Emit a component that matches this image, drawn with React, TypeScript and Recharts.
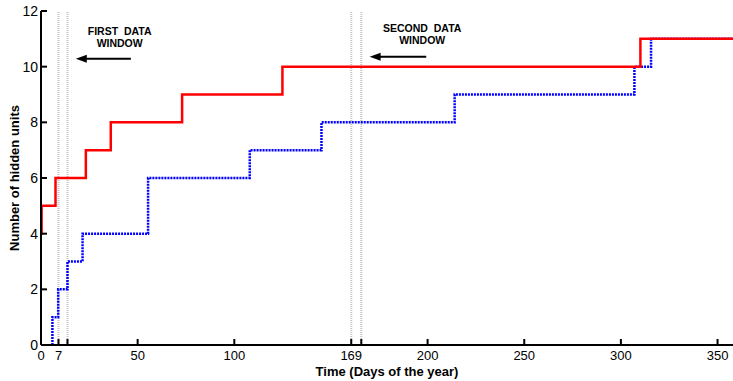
import React from "react";
import { LineChart, Line, XAxis, YAxis, ReferenceLine, ReferenceDot } from "recharts";

// Cumulative hidden units, step data (day, units)
const redDays = [0, 0.3, 7.5, 23.2, 36.1, 73.0, 124.9, 310.1, 358];
const redUnits = [4, 5, 6, 7, 8, 9, 10, 11, 11];

const blueDays = [5.9, 8.9, 13.7, 21.5, 55.4, 108.0, 145.1, 214.0, 307.0, 315.6, 358];
const blueLevelsAfter = [1, 2, 3, 4, 6, 7, 8, 9, 10, 11, 11];

// Data windows (days)
const windowDays = [9.05, 13.7, 160.5, 165.7];

// Axis ticks
const xTickValues = [0, 9.05, 13.7, 50, 100, 160.5, 165.7, 200, 250, 300, 350];
const xTickLabels = ["0", "7", "", "50", "100", "169", "", "200", "250", "300", "350"];
const yTickValues = [0, 2, 4, 6, 8, 10, 12];

const redSeries = redDays.map((d, i) => ({ x: d, red: redUnits[i] }));
const blueStep = [
  { x: blueDays[0], blue: 0 },
  ...blueDays.map((d, i) => ({ x: d, blue: blueLevelsAfter[i] })),
];

const FONT = "'Liberation Sans', Arial, sans-serif";

const BottomTick = (props: any) => {
  const { x, y, payload } = props;
  const idx = xTickValues.indexOf(payload.value);
  const label = idx >= 0 ? xTickLabels[idx] : String(payload.value);
  return (
    <g>
      <line x1={x} y1={y} x2={x} y2={y - 6} stroke="#000" strokeWidth={2} />
      <text x={x} y={y + 15} textAnchor="middle" fontSize={13} fontFamily={FONT} fill="#000">
        {label}
      </text>
    </g>
  );
};

const TopTick = (props: any) => {
  const { x, y } = props;
  return <line x1={x} y1={y} x2={x} y2={y + 6} stroke="#000" strokeWidth={2} />;
};

const LeftTick = (props: any) => {
  const { x, y, payload } = props;
  return (
    <g>
      <line x1={x} y1={y} x2={x + 6} y2={y} stroke="#000" strokeWidth={2} />
      <text x={x - 3} y={y + 5} textAnchor="end" fontSize={14} fontFamily={FONT} fill="#000">
        {payload.value}
      </text>
    </g>
  );
};

const makeText = (lines: string[]) => (props: any) => {
  const { cx, cy } = props;
  return (
    <text
      x={cx}
      y={cy}
      textAnchor="middle"
      fontSize={10.5}
      fontWeight="bold"
      fontFamily={FONT}
      fill="#000"
      style={{ whiteSpace: "pre" }}
    >
      {lines.map((l, i) => (
        <tspan key={i} x={cx} dy={i === 0 ? 0 : 12}>
          {l}
        </tspan>
      ))}
    </text>
  );
};

const ArrowHead = (props: any) => {
  const { cx, cy } = props;
  return <path d={`M${cx},${cy} L${cx + 11},${cy - 4} L${cx + 11},${cy + 4} Z`} fill="#000" />;
};

export default function App() {
  return (
    <div style={{ position: "absolute", left: 0, top: 0 }}>
      <LineChart width={733} height={381} margin={{ top: 11, right: 0, bottom: 0, left: 0 }}>
        <XAxis
          xAxisId="b"
          type="number"
          dataKey="x"
          domain={[0, 358]}
          ticks={xTickValues}
          interval={0}
          allowDataOverflow
          height={36}
          tickSize={0}
          tickMargin={0}
          tick={<BottomTick />}
          axisLine={{ stroke: "#000", strokeWidth: 2 }}
          label={{
            value: "Time (Days of the year)",
            position: "insideBottom",
            offset: 5,
            style: { fontSize: 13, fontWeight: "bold", fontFamily: FONT, fill: "#000" },
          }}
        />
        <XAxis
          xAxisId="t"
          orientation="top"
          type="number"
          dataKey="x"
          domain={[0, 358]}
          ticks={xTickValues}
          interval={0}
          allowDataOverflow
          height={0}
          tickSize={0}
          tickMargin={0}
          tick={<TopTick />}
          axisLine={{ stroke: "#000", strokeWidth: 2 }}
        />
        <YAxis
          type="number"
          domain={[0, 12]}
          ticks={yTickValues}
          interval={0}
          width={41}
          tickSize={0}
          tickMargin={0}
          tick={<LeftTick />}
          axisLine={{ stroke: "#000", strokeWidth: 2 }}
          label={{
            value: "Number of hidden units",
            angle: -90,
            position: "insideLeft",
            offset: 14,
            style: { fontSize: 13, fontWeight: "bold", fontFamily: FONT, fill: "#000", textAnchor: "middle" },
          }}
        />
        {windowDays.map((d) => (
          <ReferenceLine
            key={d}
            xAxisId="b"
            x={d}
            stroke="#c4c4c4"
            strokeWidth={2}
            strokeDasharray="1 1"
          />
        ))}
        <Line
          xAxisId="b"
          data={blueStep}
          dataKey="blue"
          type="stepAfter"
          stroke="#0000ff"
          strokeWidth={2.5}
          strokeDasharray="2 1"
          dot={false}
          isAnimationActive={false}
        />
        <Line
          xAxisId="b"
          data={redSeries}
          dataKey="red"
          type="stepAfter"
          stroke="#ff0000"
          strokeWidth={2.5}
          dot={false}
          isAnimationActive={false}
        />
        <ReferenceLine
          xAxisId="b"
          segment={[{ x: 46.5, y: 10.28 }, { x: 22, y: 10.28 }]}
          stroke="#000"
          strokeWidth={2}
        />
        <ReferenceDot xAxisId="b" x={18} y={10.28} r={0} shape={<ArrowHead />} />
        <ReferenceLine
          xAxisId="b"
          segment={[{ x: 199.3, y: 10.36 }, { x: 174, y: 10.36 }]}
          stroke="#000"
          strokeWidth={2}
        />
        <ReferenceDot xAxisId="b" x={170} y={10.36} r={0} shape={<ArrowHead />} />
        <ReferenceDot xAxisId="b" x={40.7} y={11.15} r={0} shape={makeText(["FIRST  DATA", "WINDOW"])} />
        <ReferenceDot xAxisId="b" x={197.2} y={11.25} r={0} shape={makeText(["SECOND  DATA", "WINDOW"])} />
      </LineChart>
    </div>
  );
}
